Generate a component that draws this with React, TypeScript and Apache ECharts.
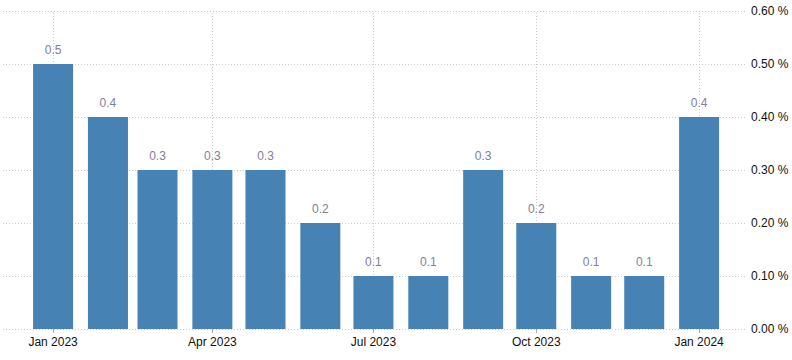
import React, { useEffect, useRef } from "react";
import * as echarts from "echarts";

const months = ["2023-01", "2023-02", "2023-03", "2023-04", "2023-05", "2023-06", "2023-07", "2023-08", "2023-09", "2023-10", "2023-11", "2023-12", "2024-01"];
const values = [0.5, 0.4, 0.3, 0.3, 0.3, 0.2, 0.1, 0.1, 0.3, 0.2, 0.1, 0.1, 0.4];
const tickMonths = ["2023-01", "2023-04", "2023-07", "2023-10", "2024-01"];
const monthNames = ["Jan", "Feb", "Mar", "Apr", "May", "Jun", "Jul", "Aug", "Sep", "Oct", "Nov", "Dec"];

const ts = (m: string) => {
  const [y, mo] = m.split("-").map(Number);
  return Date.UTC(y, mo - 1, 1);
};

export default function App() {
  const ref = useRef<HTMLDivElement>(null);
  useEffect(() => {
    if (!ref.current) return;
    const chart = echarts.init(ref.current, undefined, { renderer: "svg" });
    const tickVals = tickMonths.map(ts);
    const day = 86400000;
    chart.setOption({
      animation: false,
      grid: { left: 3, right: 46, top: 11, bottom: 31, containLabel: false },
      xAxis: {
        type: "value",
        min: ts("2023-01") - 28.3 * day,
        max: ts("2024-01") + 26.5 * day,
        axisLine: { show: false },
        axisTick: { show: true, customValues: tickVals, length: 4, lineStyle: { color: "#aaaaaa" } },
        axisLabel: {
          customValues: tickVals,
          color: "#111111",
          fontFamily: "Liberation Sans",
          fontSize: 12,
          margin: 7,
          formatter: (v: number) => {
            const d = new Date(v);
            return monthNames[d.getUTCMonth()] + " " + d.getUTCFullYear();
          },
        },
        splitLine: { show: false },
      },
      yAxis: {
        type: "value",
        position: "right",
        min: 0,
        max: 0.6,
        interval: 0.1,
        axisLine: { show: false },
        axisTick: { show: false },
        axisLabel: {
          color: "#111111",
          fontFamily: "Liberation Sans",
          fontSize: 12,
          margin: 5,
          formatter: (v: number) => v.toFixed(2) + " %",
        },
        splitLine: { show: true, lineStyle: { color: "#cccccc", type: [1, 2] } },
      },
      series: [
        {
          type: "bar",
          barWidth: 40,
          data: months.map((m, i) => [ts(m), values[i]]),
          itemStyle: { color: "#4682b4" },
          label: {
            show: true,
            position: "top",
            distance: 8,
            color: "#80809a",
            fontFamily: "Liberation Sans",
            fontSize: 12,
            formatter: (p: any) => String(p.value[1]),
          },
          markLine: {
            silent: true,
            symbol: ["none", "none"],
            label: { show: false },
            lineStyle: { color: "#cccccc", type: [1, 2], width: 1 },
            z: 0,
            data: tickVals.map((v) => ({ xAxis: v })),
          },
        },
      ],
    });
    return () => chart.dispose();
  }, []);
  return <div ref={ref} style={{ position: "absolute", left: 0, top: 0, width: 792, height: 360 }} />;
}
